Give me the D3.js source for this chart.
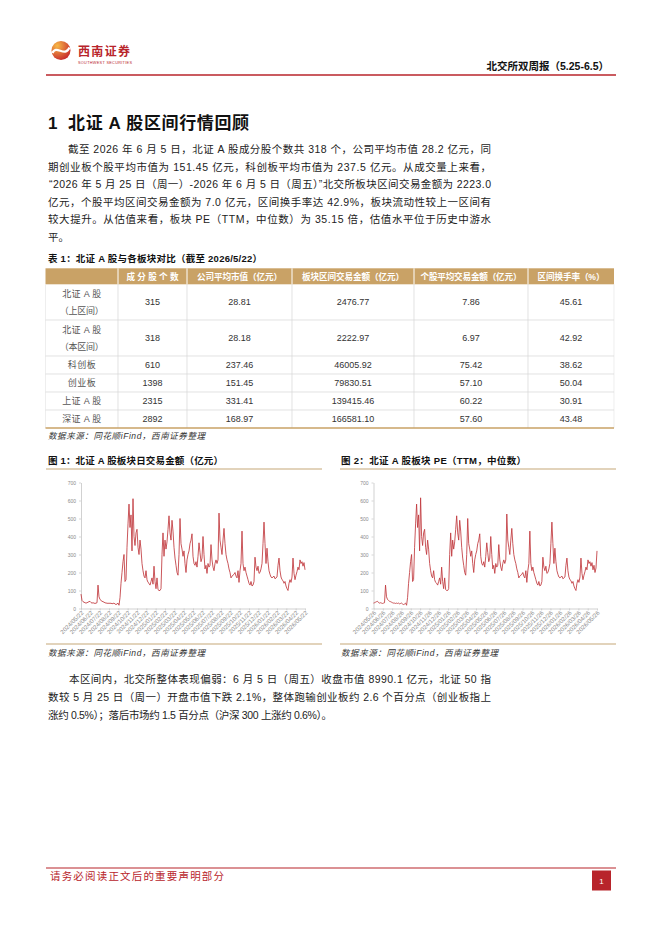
<!DOCTYPE html>
<html>
<head>
<meta charset="utf-8">
<script src="https://cdn.jsdelivr.net/npm/d3@7.9.0/dist/d3.min.js"></script>
<style>
  html, body { margin: 0; padding: 0; background: #fff; }
  svg { display: block; }
</style>
</head>
<body>
<svg id="page" width="662" height="936"></svg>
<script>
const FONT = '"Liberation Sans", "Noto Sans CJK SC", sans-serif';
const RED = '#b8242b';
const GOLD = '#c9a266';

// ---- text content ----
const reportTitle = '北交所双周报（5.25-6.5）';
const sectionTitle = '北证 A 股区间行情回顾';
const introLines = [
  '截至 2026 年 6 月 5 日，北证 A 股成分股个数共 318 个，公司平均市值 28.2 亿元，同',
  '期创业板个股平均市值为 151.45 亿元，科创板平均市值为 237.5 亿元。从成交量上来看，',
  '“2026 年 5 月 25 日（周一）-2026 年 6 月 5 日（周五）”北交所板块区间交易金额为 2223.0',
  '亿元，个股平均区间交易金额为 7.0 亿元，区间换手率达 42.9%，板块流动性较上一区间有',
  '较大提升。从估值来看，板块 PE（TTM，中位数）为 35.15 倍，估值水平位于历史中游水',
  '平。',
];
const outroLines = [
  '本区间内，北交所整体表现偏弱：6 月 5 日（周五）收盘市值 8990.1 亿元，北证 50 指',
  '数较 5 月 25 日（周一）开盘市值下跌 2.1%，整体跑输创业板约 2.6 个百分点（创业板指上',
  '涨约 0.5%）；落后市场约 1.5 百分点（沪深 300 上涨约 0.6%）。',
];
const sourceText = '数据来源：同花顺iFind，西南证券整理';

// ---- table data ----
const tableCaption = '表 1：北证 A 股与各板块对比（截至 2026/5/22）';
const tableHeaders = ['', '成分股个数', '公司平均市值（亿元）', '板块区间交易金额（亿元）', '个股平均交易金额（亿元）', '区间换手率（%）'];
const rowLabels = [['北证 A 股', '（上区间）'], ['北证 A 股', '（本区间）'], ['科创板'], ['创业板'], ['上证 A 股'], ['深证 A 股']];
const constituents = ['315', '318', '610', '1398', '2315', '2892'];
const avgMarketCap = ['28.81', '28.18', '237.46', '151.45', '331.41', '168.97'];
const periodTurnover = ['2476.77', '2222.97', '46005.92', '79830.51', '139415.46', '166581.10'];
const avgTurnover = ['7.86', '6.97', '75.42', '57.10', '60.22', '57.60'];
const turnoverRate = ['45.61', '42.92', '38.62', '50.04', '30.91', '43.48'];

// ---- chart data ----
const chart1Title = '图 1：北证 A 股板块日交易金额（亿元）';
const chart2Title = '图 2：北证 A 股板块 PE（TTM，中位数）';
const yTicks = [0, 100, 200, 300, 400, 500, 600, 700];
const dateTicks1 = ['2024/05/22', '2024/06/22', '2024/07/22', '2024/08/22', '2024/09/22', '2024/10/22', '2024/11/22', '2024/12/22',
  '2025/01/22', '2025/02/22', '2025/03/22', '2025/04/22', '2025/05/22', '2025/06/22', '2025/07/22', '2025/08/22', '2025/09/22',
  '2025/10/22', '2025/11/22', '2025/12/22', '2026/01/22', '2026/02/22', '2026/03/22', '2026/04/22', '2026/05/22'];
const dateTicks2 = ['2024/05/26', '2024/06/26', '2024/07/26', '2024/08/26', '2024/09/26', '2024/10/26', '2024/11/26', '2024/12/26',
  '2025/01/26', '2025/02/26', '2025/03/26', '2025/04/26', '2025/05/26', '2025/06/26', '2025/07/26', '2025/08/26', '2025/09/26',
  '2025/10/26', '2025/11/26', '2025/12/26', '2026/01/26', '2026/02/26', '2026/03/26', '2026/04/26', '2026/05/26'];
const dailyAmount = [80, 45, 38, 35, 32, 30, 32, 35, 38, 40, 33, 30, 32, 30, 28, 30, 32, 130, 65, 50, 45, 40, 38, 35, 32, 30, 30, 28, 30, 28,
  30, 26, 28, 30, 25, 22, 25, 30, 18, 60, 140, 200, 260, 300, 150, 160, 340, 470, 580, 450, 520, 320, 610, 400, 350, 420, 440, 340, 300, 380,
  330, 250, 210, 180, 170, 210, 160, 145, 140, 130, 150, 170, 135, 235, 150, 110, 170, 105, 100, 100, 110, 300, 420, 290, 380, 330, 370, 440, 515, 420,
  380, 490, 430, 340, 280, 240, 200, 185, 300, 500, 360, 330, 290, 320, 250, 200, 270, 300, 320, 360, 380, 415, 290, 250, 240, 260, 230, 290, 365, 310,
  260, 280, 400, 300, 220, 240, 195, 250, 230, 240, 355, 270, 230, 210, 250, 270, 250, 270, 530, 380, 340, 300, 380, 445, 360, 300, 270, 250, 220, 200,
  170, 180, 185, 190, 200, 180, 170, 210, 145, 210, 250, 430, 250, 210, 230, 200, 180, 160, 140, 130, 150, 125, 130, 150, 285, 230, 210, 235, 195, 200,
  220, 250, 360, 480, 360, 250, 335, 260, 210, 190, 175, 170, 175, 180, 165, 170, 175, 240, 280, 210, 175, 160, 155, 140, 150, 125, 110, 100, 140, 160,
  145, 175, 280, 195, 160, 185, 205, 230, 215, 270, 250, 260, 235, 255, 215];
const medianPE = [30, 32, 35, 38, 40, 33, 30, 32, 30, 28, 30, 32, 130, 65, 50, 45, 40, 38, 35, 32, 30, 30, 28, 30, 28, 30, 26, 28, 30, 25,
  22, 25, 30, 18, 60, 140, 200, 260, 300, 150, 160, 340, 470, 580, 450, 520, 320, 615, 400, 350, 420, 440, 340, 300, 380, 330, 250, 210, 180, 170,
  210, 160, 145, 140, 130, 150, 170, 135, 230, 150, 110, 170, 105, 100, 100, 110, 300, 420, 290, 380, 330, 370, 440, 515, 420, 380, 490, 430, 340, 280,
  240, 200, 185, 300, 500, 360, 330, 290, 320, 250, 200, 270, 300, 320, 360, 380, 415, 290, 250, 240, 260, 230, 290, 365, 310, 260, 280, 400, 300, 220,
  240, 195, 250, 230, 240, 355, 270, 230, 210, 250, 270, 250, 270, 525, 380, 340, 300, 380, 445, 360, 300, 270, 250, 220, 200, 170, 180, 185, 190, 200,
  180, 170, 210, 145, 210, 250, 430, 250, 210, 230, 200, 180, 160, 140, 130, 150, 125, 130, 150, 285, 230, 210, 235, 195, 200, 220, 250, 360, 480, 360,
  250, 335, 260, 210, 190, 175, 170, 175, 180, 165, 170, 175, 240, 280, 210, 175, 160, 155, 140, 150, 125, 110, 100, 140, 160, 145, 175, 280, 195, 160,
  185, 205, 230, 215, 270, 250, 260, 235, 255, 215, 240, 200, 225, 320];

const svg = d3.select('#page');

function txt(g, x, y, s, o = {}) {
  const t = g.append('text')
    .attr('x', x)
    .attr('y', y)
    .attr('font-family', FONT)
    .attr('font-size', o.size || 10.5)
    .attr('fill', o.fill || '#222')
    .text(s);
  if (o.weight) t.attr('font-weight', o.weight);
  if (o.anchor) t.attr('text-anchor', o.anchor);
  if (o.italic) t.attr('font-style', 'italic');
  if (o.len) t.attr('textLength', o.len).attr('lengthAdjust', 'spacing');
  return t;
}

function hline(g, x1, x2, y, color, w) {
  g.append('line').attr('x1', x1).attr('x2', x2).attr('y1', y).attr('y2', y)
    .attr('stroke', color).attr('stroke-width', w);
}

// ---- page header ----
const head = svg.append('g');
const grad = svg.append('defs').append('radialGradient')
  .attr('id', 'logoGrad').attr('cx', '30%').attr('cy', '25%').attr('r', '85%');
grad.append('stop').attr('offset', '0%').attr('stop-color', '#f7b845');
grad.append('stop').attr('offset', '100%').attr('stop-color', '#c5222b');
head.append('circle').attr('cx', 61).attr('cy', 50.5).attr('r', 9.5).attr('fill', 'url(#logoGrad)');
head.append('path')
  .attr('d', 'M52.5,53 C56,44 65,58 69.5,47.5')
  .attr('fill', 'none').attr('stroke', '#fff').attr('stroke-width', 2.2);
txt(head, 78, 55.5, '西南证券', { size: 12, weight: 'bold', fill: RED, len: 52 });
txt(head, 78, 63.5, 'SOUTHWEST SECURITIES', { size: 3.8, fill: RED, len: 54 });
txt(head, 609, 69.5, reportTitle, { size: 10.5, weight: 'bold', fill: '#111', anchor: 'end' });
hline(head, 46, 616, 75, RED, 1.3);

// ---- section heading + intro ----
const body = svg.append('g');
txt(body, 48, 129, '1', { size: 17, weight: 'bold', fill: '#111' });
txt(body, 68, 129, sectionTitle, { size: 17, weight: 'bold', fill: '#111', len: 181 });

const introStarts = [68, 48, 49, 48, 48, 48];
introLines.forEach((line, i) => {
  const x = introStarts[i];
  const opts = { size: 10.5, fill: '#222' };
  if (i < introLines.length - 1) opts.len = 491 - x;
  txt(body, x, 153 + i * 17.6, line, opts);
});

// ---- table ----
const table = svg.append('g');
const colX = [45.5, 118, 187, 292, 414, 528, 614];
const rowY = [268.3, 284.3, 320, 356, 374, 392, 410, 428];
const columns = [constituents, avgMarketCap, periodTurnover, avgTurnover, turnoverRate];
const headerLens = [0, 52, 85, 102, 101, 67];

txt(table, 48, 262, tableCaption, { size: 9.5, weight: 'bold', fill: '#111', len: 214 });

table.append('rect')
  .attr('x', colX[0]).attr('y', rowY[0])
  .attr('width', colX[6] - colX[0]).attr('height', rowY[1] - rowY[0])
  .attr('fill', GOLD);

colX.slice(1, 6).forEach((x) => {
  table.append('line').attr('x1', x).attr('x2', x).attr('y1', rowY[0]).attr('y2', rowY[1])
    .attr('stroke', '#fff').attr('stroke-width', 1);
  table.append('line').attr('x1', x).attr('x2', x).attr('y1', rowY[1]).attr('y2', rowY[7])
    .attr('stroke', '#d6d6d6').attr('stroke-width', 0.7);
});
[colX[0], colX[6]].forEach((x) => {
  table.append('line').attr('x1', x).attr('x2', x).attr('y1', rowY[1]).attr('y2', rowY[7])
    .attr('stroke', '#e2e2e2').attr('stroke-width', 0.6);
});
rowY.slice(2, 7).forEach((y) => hline(table, colX[0], colX[6], y, '#d6d6d6', 0.7));
hline(table, colX[0], colX[6], rowY[7], GOLD, 1.5);

tableHeaders.forEach((h, i) => {
  if (!h) return;
  txt(table, (colX[i] + colX[i + 1]) / 2, 279.5, h,
    { size: 8.6, weight: 'bold', fill: '#fff', anchor: 'middle', len: headerLens[i] });
});

rowLabels.forEach((lab, r) => {
  const yMid = (rowY[r + 1] + rowY[r + 2]) / 2;
  const cx = (colX[0] + colX[1]) / 2;
  if (lab.length === 2) {
    txt(table, cx, yMid - 5, lab[0], { size: 9, fill: '#555', anchor: 'middle', len: 39 });
    txt(table, cx, yMid + 12, lab[1], { size: 9, fill: '#555', anchor: 'middle', len: 44 });
  } else {
    txt(table, cx, yMid + 3.3, lab[0], { size: 9, fill: '#555', anchor: 'middle', len: lab[0].length > 3 ? 39 : 28 });
  }
  columns.forEach((col, c) => {
    txt(table, (colX[c + 1] + colX[c + 2]) / 2, yMid + 3.3, col[r], { size: 9, fill: '#333', anchor: 'middle' });
  });
});

txt(table, 48, 439, sourceText, { size: 8.5, fill: '#333', italic: true, len: 157 });

// ---- charts ----
function drawChart(o) {
  const g = svg.append('g');
  const yTop = 482.5;
  const yBase = 608.5;

  txt(g, o.titleX, 464, o.title, { size: 9.5, weight: 'bold', fill: '#111', len: o.titleLen });
  hline(g, o.frame[0], o.frame[1], 469, '#c6a878', 1.1);
  hline(g, o.frame[0], o.frame[1], 644, '#c6a878', 1.1);
  txt(g, o.titleX, 656, sourceText, { size: 8.5, fill: '#333', italic: true, len: 157 });

  const x = d3.scaleLinear().domain([0, o.values.length - 1]).range([o.left, o.right]);
  const y = d3.scaleLinear().domain([0, 700]).range([yBase, yTop]);
  const xl = d3.scalePoint().domain(o.ticks).range([o.left, o.right]);

  const ya = g.append('g')
    .attr('transform', `translate(${o.left},0)`)
    .call(d3.axisLeft(y).tickValues(yTicks).tickSize(2).tickSizeOuter(0).tickPadding(3));
  ya.select('.domain').attr('stroke', '#bdbdbd').attr('stroke-width', 0.7);
  ya.selectAll('.tick line').attr('stroke', '#bdbdbd').attr('stroke-width', 0.6);
  ya.selectAll('.tick text').attr('font-family', FONT).attr('font-size', 5).attr('fill', '#8a8a8a');

  const xa = g.append('g')
    .attr('transform', `translate(0,${yBase})`)
    .call(d3.axisBottom(xl).tickSize(2).tickSizeOuter(0).tickPadding(2));
  xa.select('.domain').attr('stroke', '#bdbdbd').attr('stroke-width', 0.7);
  xa.selectAll('.tick line').attr('stroke', '#bdbdbd').attr('stroke-width', 0.6);
  xa.selectAll('.tick text')
    .attr('font-family', FONT)
    .attr('font-size', 6)
    .attr('fill', '#8a8a8a')
    .attr('text-anchor', 'end')
    .attr('x', -1.5)
    .attr('y', 3)
    .attr('dy', '0.35em')
    .attr('transform', 'rotate(-45)');

  g.append('path')
    .datum(o.values)
    .attr('fill', 'none')
    .attr('stroke', '#c0393d')
    .attr('stroke-width', 0.85)
    .attr('stroke-linejoin', 'round')
    .attr('d', d3.line().x((d, i) => x(i)).y((d) => y(d)));
}

drawChart({ title: chart1Title, titleX: 48, titleLen: 175, frame: [46, 322], left: 81, right: 305, ticks: dateTicks1, values: dailyAmount });
drawChart({ title: chart2Title, titleX: 341, titleLen: 185, frame: [340, 616], left: 373.5, right: 597, ticks: dateTicks2, values: medianPE });

// ---- closing paragraph ----
const outStarts = [69, 48, 48];
const outEnds = [491, 491, 332];
outroLines.forEach((line, i) => {
  txt(body, outStarts[i], 683 + i * 18, line, { size: 10.5, fill: '#222', len: outEnds[i] - outStarts[i] });
});

// ---- footer ----
const foot = svg.append('g');
hline(foot, 46, 616, 868, RED, 1.2);
txt(foot, 50, 880, '请务必阅读正文后的重要声明部分', { size: 10.5, fill: RED, len: 174 });
foot.append('rect').attr('x', 592).attr('y', 870.5).attr('width', 19).attr('height', 20).attr('fill', RED);
txt(foot, 601.5, 884, '1', { size: 8, fill: '#fff', anchor: 'middle' });
</script>
</body>
</html>
